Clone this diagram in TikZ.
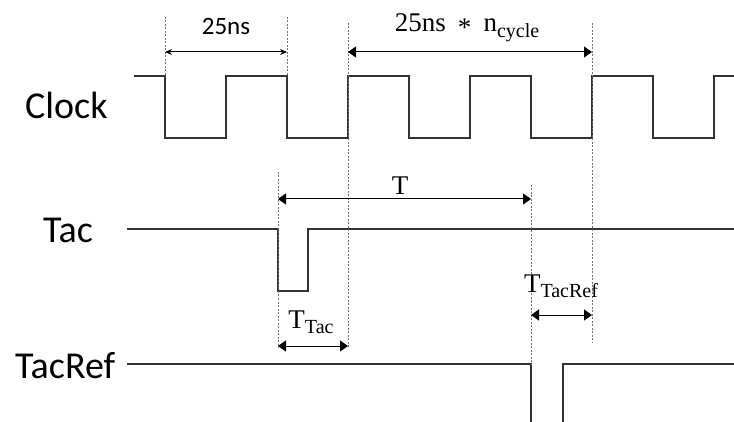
\documentclass[tikz,border=0pt]{standalone}
\usepackage{fontspec}
\newfontfamily\namefont{Carlito}
\newfontfamily\spanfont{Liberation Serif}
\usetikzlibrary{arrows.meta}
\newcommand\subtxt[1]{\raisebox{-.22em}{\fontsize{20}{20}\selectfont #1}}
\tikzset{
  wave/.style={draw=black!80, line width=1.1pt},
  marker/.style={draw=black!55, dash pattern=on 2pt off 1.5pt, line width=.5pt},
  span/.style={line width=1pt, {Triangle[length=8pt,width=11pt]}-{Triangle[length=8pt,width=11pt]}},
  smallspan/.style={line width=1pt, {Stealth[length=7pt,width=6pt]}-{Stealth[length=7pt,width=6pt]}},
  signame/.style={font=\namefont\fontsize{38}{38}\selectfont, anchor=base west, inner sep=0pt},
  spanlabel/.style={font=\spanfont\fontsize{27}{27}\selectfont, anchor=base, inner sep=0pt},
}
\begin{document}
\begin{tikzpicture}[x=1pt,y=-1pt]
    \useasboundingbox (0,0) rectangle (734,422);
    % signal names
    \node[signame] (clk) at (25,119) {Clock};
    \node[signame] (tac) at (43,243) {Tac};
    \node[signame] (tacref) at (15,378) {TacRef};
    % waveforms
    \draw[wave] (134,76) \foreach \x in {165,287,409,531,653}{ -- (\x,76) -- (\x,138) -- (\x+61,138) -- (\x+61,76)} -- (734,76);
    \draw[wave] (127,229) -- (278,229) -- (278,291) -- (308,291) -- (308,229) -- (734,229);
    \draw[wave] (127,364) -- (531,364) -- (531,422);
    \draw[wave] (563,422) -- (563,364) -- (734,364);
    % markers
    \coordinate (m1) at (165,52);
    \coordinate (m2) at (287,52);
    \coordinate (m3) at (348,52);
    \coordinate (m4) at (592,52);
    \coordinate (m5) at (278,199);
    \coordinate (m6) at (531,199);
    \draw[marker] (165,17) -- (165,76);
    \draw[marker] (287,17) -- (287,76);
    \draw[marker] (348,23) -- (348,348);
    \draw[marker] (592,23) -- (592,343);
    \draw[marker] (278,172) -- (278,348);
    \draw[marker] (531,185) -- (531,364);
    % spans
    \draw[smallspan] (m1) -- (m2);
    \node[spanlabel, font=\namefont\fontsize{25}{25}\selectfont] (period) at (226,35) {25ns};
    \draw[span] (m3) -- (m4);
    \node[spanlabel] (cycles) at (467,32) {25ns\hspace{.45em}\raisebox{-.17em}{*}\hspace{.45em}n\subtxt{cycle}};
    \draw[span] (m5) -- (m6);
    \node[spanlabel] (tlab) at (400,195) {T};
    \draw[span] (m5 |- 0,346) -- (m3 |- 0,346);
    \node[spanlabel] (ttac) at (311,328) {T\subtxt{Tac}};
    \draw[span] (m6 |- 0,315) -- (m4 |- 0,315);
    \node[spanlabel] (ttacref) at (561,292) {T\subtxt{TacRef}};
\end{tikzpicture}
\end{document}
